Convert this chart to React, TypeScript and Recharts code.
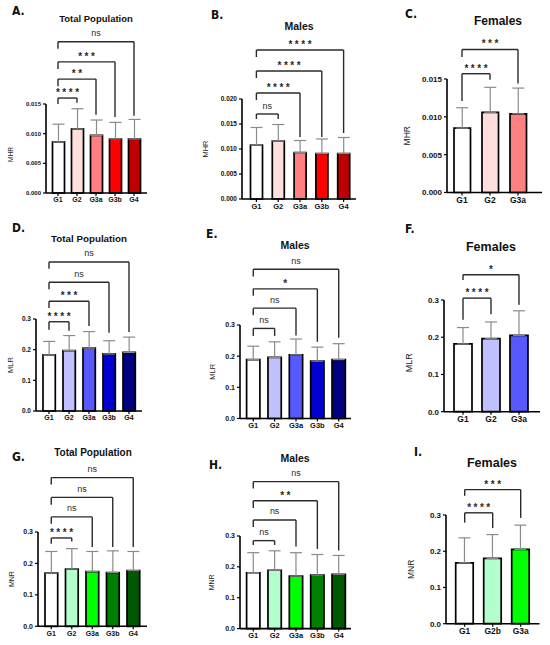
import React from 'react';
import { BarChart, Bar, XAxis, YAxis, ErrorBar, Cell, ReferenceLine } from 'recharts';

// ---------- categories ----------
const groupsAll = ['G1', 'G2', 'G3a', 'G3b', 'G4'];
const groupsFemaleMHR = ['G1', 'G2', 'G3a'];
const groupsFemaleMLR = ['G1', 'G2', 'G3a'];
const groupsFemaleMNR = ['G1', 'G2b', 'G3a'];

// ---------- series values (mean, SD) ----------
const mhrTotalMean = [0.0086, 0.0108, 0.0097, 0.0091, 0.0091];
const mhrTotalSd = [0.003, 0.0034, 0.0026, 0.0028, 0.0033];
const mhrMaleMean = [0.0108, 0.0116, 0.0093, 0.0091, 0.0091];
const mhrMaleSd = [0.0035, 0.0033, 0.0024, 0.0029, 0.0032];
const mhrFemaleMean = [0.0085, 0.0106, 0.0104];
const mhrFemaleSd = [0.0027, 0.0033, 0.0034];

const mlrTotalMean = [0.183, 0.197, 0.205, 0.186, 0.191];
const mlrTotalSd = [0.044, 0.049, 0.054, 0.043, 0.05];
const mlrMaleMean = [0.189, 0.196, 0.204, 0.184, 0.189];
const mlrMaleSd = [0.043, 0.05, 0.051, 0.045, 0.051];
const mlrFemaleMean = [0.182, 0.196, 0.205];
const mlrFemaleSd = [0.044, 0.045, 0.066];

const mnrTotalMean = [0.169, 0.182, 0.174, 0.171, 0.177];
const mnrTotalSd = [0.069, 0.065, 0.064, 0.069, 0.061];
const mnrMaleMean = [0.181, 0.189, 0.17, 0.173, 0.176];
const mnrMaleSd = [0.065, 0.063, 0.076, 0.067, 0.061];
const mnrFemaleMean = [0.168, 0.18, 0.205];
const mnrFemaleSd = [0.069, 0.066, 0.067];

// ---------- tick labels ----------
const mhrTicks = [0, 0.005, 0.01, 0.015];
const mhrTickLabels = ['0.000', '0.005', '0.010', '0.015'];
const mhrMaleTicks = [0, 0.005, 0.01, 0.015, 0.02];
const mhrMaleTickLabels = ['0.000', '0.005', '0.010', '0.015', '0.020'];
const ratioTicks = [0, 0.1, 0.2, 0.3];
const ratioTickLabels = ['0.0', '0.1', '0.2', '0.3'];

// ---------- colours ----------
const redShades = ['#ffffff', '#ffdede', '#ff8080', '#ff0000', '#c00000'];
const blueShades = ['#ffffff', '#c0c0ff', '#5858ff', '#0000d0', '#000080'];
const greenShades = ['#ffffff', '#b3ffcc', '#00ff00', '#008000', '#005800'];

// ---------- significance brackets (data units) ----------
const bracketsMhrTotal = [
  { from: 'G1', to: 'G2', y: 0.016, left: 0.015, right: 0.0152, label: '****' },
  { from: 'G1', to: 'G3a', y: 0.0192, left: 0.018, right: 0.0132, label: '**' },
  { from: 'G1', to: 'G3b', y: 0.0221, left: 0.0209, right: 0.0128, label: '***' },
  { from: 'G1', to: 'G4', y: 0.0255, left: 0.0243, right: 0.013, label: 'ns' },
];
const bracketsMhrMale = [
  { from: 'G1', to: 'G2', y: 0.017, left: 0.016, right: 0.016, label: 'ns' },
  { from: 'G1', to: 'G3a', y: 0.0212, left: 0.0198, right: 0.0124, label: '****' },
  { from: 'G1', to: 'G3b', y: 0.0256, left: 0.0242, right: 0.0124, label: '****' },
  { from: 'G1', to: 'G4', y: 0.0298, left: 0.0284, right: 0.0132, label: '****' },
];
const bracketsMhrFemale = [
  { from: 'G1', to: 'G2', y: 0.0157, left: 0.0121, right: 0.0149, label: '****' },
  { from: 'G1', to: 'G3a', y: 0.0189, left: 0.0179, right: 0.0144, label: '***' },
];
const bracketsMlrTotal = [
  { from: 'G1', to: 'G2', y: 0.291, left: 0.265, right: 0.262, label: '****' },
  { from: 'G1', to: 'G3a', y: 0.358, left: 0.336, right: 0.277, label: '***' },
  { from: 'G1', to: 'G3b', y: 0.42, left: 0.397, right: 0.255, label: 'ns' },
  { from: 'G1', to: 'G4', y: 0.486, left: 0.464, right: 0.258, label: 'ns' },
];
const bracketsMlrMale = [
  { from: 'G1', to: 'G2', y: 0.289, left: 0.265, right: 0.265, label: 'ns' },
  { from: 'G1', to: 'G3a', y: 0.354, left: 0.331, right: 0.266, label: 'ns' },
  { from: 'G1', to: 'G3b', y: 0.416, left: 0.394, right: 0.246, label: '*' },
  { from: 'G1', to: 'G4', y: 0.479, left: 0.456, right: 0.259, label: 'ns' },
];
const bracketsMlrFemale = [
  { from: 'G1', to: 'G2', y: 0.305, left: 0.247, right: 0.262, label: '****' },
  { from: 'G1', to: 'G3a', y: 0.368, left: 0.354, right: 0.287, label: '*' },
];
const bracketsMnrTotal = [
  { from: 'G1', to: 'G2', y: 0.281, left: 0.263, right: 0.27, label: '****' },
  { from: 'G1', to: 'G3a', y: 0.348, left: 0.326, right: 0.252, label: 'ns' },
  { from: 'G1', to: 'G3b', y: 0.41, left: 0.387, right: 0.252, label: 'ns' },
  { from: 'G1', to: 'G4', y: 0.473, left: 0.451, right: 0.252, label: 'ns' },
];
const bracketsMnrMale = [
  { from: 'G1', to: 'G2', y: 0.285, left: 0.271, right: 0.271, label: 'ns' },
  { from: 'G1', to: 'G3a', y: 0.352, left: 0.329, right: 0.266, label: 'ns' },
  { from: 'G1', to: 'G3b', y: 0.414, left: 0.391, right: 0.258, label: '**' },
  { from: 'G1', to: 'G4', y: 0.476, left: 0.454, right: 0.253, label: 'ns' },
];
const bracketsMnrFemale = [
  { from: 'G1', to: 'G2b', y: 0.306, left: 0.279, right: 0.264, label: '****' },
  { from: 'G1', to: 'G3a', y: 0.37, left: 0.353, right: 0.292, label: '***' },
];

const FONT = "'Liberation Sans', Arial, Helvetica, sans-serif";
const LETTER_FONT = "'Liberation Sans Narrow', 'DejaVu Sans Condensed', 'Liberation Sans', sans-serif";

type Bracket = { from: string; to: string; y: number; left: number; right: number; label: string };

type PanelCfg = {
  letter: string; letterX: number; letterY: number;
  title: string; titleX: number; titleY: number; titleSize: number;
  groups: string[]; means: number[]; sds: number[]; colors: string[];
  brackets: Bracket[]; ticks: number[]; tickLabels: string[]; domainMax: number;
  yLabel: string; labelX: number; labelSize: number; labelDy?: number;
  plotLeft: number; plotRight: number; plotTop: number; plotBottom: number;
  padL: number; padR: number; barSize: number; chartLeft: number;
  tickFont: number; xFont: number; starFont: number; starSpacing: number; nsFont: number;
};

const small = { tickFont: 6.5, xFont: 7, starFont: 10, starSpacing: 2.5, nsFont: 9 };
const large = { tickFont: 8, xFont: 8.5, starFont: 10, starSpacing: 2.5, nsFont: 9.5 };

const panels: PanelCfg[] = [
  {
    letter: 'A.', letterX: 12, letterY: 11, title: 'Total Population', titleX: 96, titleY: 19, titleSize: 9.5,
    groups: groupsAll, means: mhrTotalMean, sds: mhrTotalSd, colors: redShades, brackets: bracketsMhrTotal,
    ticks: mhrTicks, tickLabels: mhrTickLabels, domainMax: 0.015, yLabel: 'MHR', labelX: 10, labelSize: 6.5, labelDy: 6,
    plotLeft: 46, plotRight: 147, plotTop: 104, plotBottom: 193, padL: 2.5, padR: 3.5, barSize: 12, chartLeft: 0,
    ...small, tickFont: 6,
  },
  {
    letter: 'B.', letterX: 211, letterY: 15, title: 'Males', titleX: 299, titleY: 26, titleSize: 10.5,
    groups: groupsAll, means: mhrMaleMean, sds: mhrMaleSd, colors: redShades, brackets: bracketsMhrMale,
    ticks: mhrMaleTicks, tickLabels: mhrMaleTickLabels, domainMax: 0.02, yLabel: 'MHR', labelX: 205, labelSize: 7.5,
    plotLeft: 242, plotRight: 356, plotTop: 99, plotBottom: 199, padL: 3.5, padR: 1.5, barSize: 12, chartLeft: 180,
    ...small, xFont: 7.5,
  },
  {
    letter: 'C.', letterX: 405, letterY: 14, title: 'Females', titleX: 498, titleY: 21, titleSize: 12,
    groups: groupsFemaleMHR, means: mhrFemaleMean, sds: mhrFemaleSd, colors: redShades, brackets: bracketsMhrFemale,
    ticks: mhrTicks, tickLabels: mhrTickLabels, domainMax: 0.015, yLabel: 'MHR', labelX: 407, labelSize: 8.5,
    plotLeft: 447, plotRight: 542, plotTop: 79, plotBottom: 192.5, padL: 1, padR: 10, barSize: 16.5, chartLeft: 365,
    ...large,
  },
  {
    letter: 'D.', letterX: 12, letterY: 228, title: 'Total Population', titleX: 89, titleY: 239, titleSize: 9.8,
    groups: groupsAll, means: mlrTotalMean, sds: mlrTotalSd, colors: blueShades, brackets: bracketsMlrTotal,
    ticks: ratioTicks, tickLabels: ratioTickLabels, domainMax: 0.3, yLabel: 'MLR', labelX: 10, labelSize: 7.5,
    plotLeft: 36, plotRight: 142, plotTop: 319, plotBottom: 411, padL: 3, padR: 3, barSize: 12.3, chartLeft: 0,
    ...small,
  },
  {
    letter: 'E.', letterX: 206, letterY: 234, title: 'Males', titleX: 295, titleY: 245, titleSize: 10.5,
    groups: groupsAll, means: mlrMaleMean, sds: mlrMaleSd, colors: blueShades, brackets: bracketsMlrMale,
    ticks: ratioTicks, tickLabels: ratioTickLabels, domainMax: 0.3, yLabel: 'MLR', labelX: 212, labelSize: 7.5,
    plotLeft: 240, plotRight: 351, plotTop: 325, plotBottom: 418.5, padL: 2.6, padR: 1.6, barSize: 13.3, chartLeft: 180,
    ...small, tickFont: 7, xFont: 7.5,
  },
  {
    letter: 'F.', letterX: 405, letterY: 229, title: 'Females', titleX: 491, titleY: 247, titleSize: 12.5,
    groups: groupsFemaleMLR, means: mlrFemaleMean, sds: mlrFemaleSd, colors: blueShades, brackets: bracketsMlrFemale,
    ticks: ratioTicks, tickLabels: ratioTickLabels, domainMax: 0.3, yLabel: 'MLR', labelX: 409, labelSize: 9, labelDy: 7,
    plotLeft: 444, plotRight: 540, plotTop: 300, plotBottom: 411.7, padL: 5, padR: 7, barSize: 18, chartLeft: 365,
    ...large,
  },
  {
    letter: 'G.', letterX: 12, letterY: 457, title: 'Total Population', titleX: 93, titleY: 453, titleSize: 10,
    groups: groupsAll, means: mnrTotalMean, sds: mnrTotalSd, colors: greenShades, brackets: bracketsMnrTotal,
    ticks: ratioTicks, tickLabels: ratioTickLabels, domainMax: 0.3, yLabel: 'MNR', labelX: 12, labelSize: 7,
    plotLeft: 38, plotRight: 147, plotTop: 531.7, plotBottom: 626, padL: 3, padR: 3.5, barSize: 12.7, chartLeft: 0,
    ...small, tickFont: 7,
  },
  {
    letter: 'H.', letterX: 209, letterY: 465, title: 'Males', titleX: 295, titleY: 458, titleSize: 10.5,
    groups: groupsAll, means: mnrMaleMean, sds: mnrMaleSd, colors: greenShades, brackets: bracketsMnrMale,
    ticks: ratioTicks, tickLabels: ratioTickLabels, domainMax: 0.3, yLabel: 'MNR', labelX: 212, labelSize: 7,
    plotLeft: 240, plotRight: 351, plotTop: 535.7, plotBottom: 628.3, padL: 2.6, padR: 1.6, barSize: 13.3, chartLeft: 180,
    ...small, tickFont: 7, xFont: 7.5,
  },
  {
    letter: 'I.', letterX: 414, letterY: 452, title: 'Females', titleX: 492, titleY: 463, titleSize: 12.5,
    groups: groupsFemaleMNR, means: mnrFemaleMean, sds: mnrFemaleSd, colors: greenShades, brackets: bracketsMnrFemale,
    ticks: ratioTicks, tickLabels: ratioTickLabels, domainMax: 0.3, yLabel: 'MNR', labelX: 411, labelSize: 8.5,
    plotLeft: 446, plotRight: 539.5, plotTop: 515.3, plotBottom: 624, padL: 4.7, padR: 4.8, barSize: 17.5, chartLeft: 365,
    ...large,
  },
];

const TOP_SPACE = 90;
const X_AXIS_H = 18;
const BOTTOM_SPACE = 4;
const RIGHT_SPACE = 8;
const BRACKET_COLOR = '#2a2a2a';

function Panel({ cfg }: { cfg: PanelCfg }) {
  const data = cfg.groups.map((g, i) => ({ g, mean: cfg.means[i], err: [0, cfg.sds[i]] }));
  const chartTop = cfg.plotTop - TOP_SPACE;
  const width = cfg.plotRight + RIGHT_SPACE - cfg.chartLeft;
  const height = cfg.plotBottom - cfg.plotTop + TOP_SPACE + X_AXIS_H + BOTTOM_SPACE;
  const yAxisWidth = cfg.plotLeft - cfg.chartLeft;
  const labelGap = cfg.plotLeft - cfg.labelX;

  const renderYLabel = (props: any) => {
    const vb = props && props.viewBox ? props.viewBox : { x: 0, y: TOP_SPACE, width: yAxisWidth, height: cfg.plotBottom - cfg.plotTop };
    const x = vb.x + vb.width - labelGap;
    const y = vb.y + vb.height / 2 + (cfg.labelDy || 0);
    return (
      <text x={x} y={y} transform={`rotate(-90 ${x} ${y})`} textAnchor="middle" dominantBaseline="central"
        fontSize={cfg.labelSize} fontFamily={FONT} fill="#222">{cfg.yLabel}</text>
    );
  };

  const makeBracketLabel = (text: string) => (props: any) => {
    const vb = props && props.viewBox ? props.viewBox : { x: 0, y: 0, width: 0, height: 0 };
    const isNs = text === 'ns';
    const sp = isNs ? 0 : cfg.starSpacing;
    const x = vb.x + vb.width / 2 + sp / 2;
    const y = vb.y - (isNs ? 5.5 : 2);
    return (
      <text x={x} y={y} textAnchor="middle" fontSize={isNs ? cfg.nsFont : cfg.starFont} letterSpacing={sp}
        fontWeight={isNs ? 400 : 700} fontFamily={FONT} fill={BRACKET_COLOR}>{text}</text>
    );
  };

  const fmt = (v: number) => {
    const idx = cfg.ticks.findIndex((t) => Math.abs(t - v) < 1e-9);
    return idx >= 0 ? cfg.tickLabels[idx] : String(v);
  };

  return (
    <div style={{ position: 'absolute', left: cfg.chartLeft, top: chartTop }}>
      <BarChart width={width} height={height} data={data}
        margin={{ top: TOP_SPACE, right: RIGHT_SPACE, bottom: BOTTOM_SPACE, left: 0 }}>
        <XAxis dataKey="g" type="category" interval={0} height={X_AXIS_H}
          padding={{ left: cfg.padL, right: cfg.padR }}
          tickSize={3} tickMargin={1.5}
          tick={{ fontSize: cfg.xFont, fontWeight: 700, fill: '#111', fontFamily: FONT }}
          tickLine={{ stroke: '#000', strokeWidth: 1.2 }}
          axisLine={{ stroke: '#000', strokeWidth: 1.6 }} />
        <YAxis type="number" domain={[0, cfg.domainMax]} ticks={cfg.ticks} tickFormatter={fmt}
          width={yAxisWidth} tickSize={3} tickMargin={2} interval={0}
          tick={{ fontSize: cfg.tickFont, fontWeight: 700, fill: '#111', fontFamily: FONT }}
          tickLine={{ stroke: '#000', strokeWidth: 1.2 }}
          axisLine={{ stroke: '#000', strokeWidth: 1.6 }}
          label={renderYLabel} />
        <Bar dataKey="mean" barSize={cfg.barSize} stroke="#000" strokeWidth={1.7} isAnimationActive={false}>
          {data.map((d, i) => (
            <Cell key={d.g} fill={cfg.colors[i]} />
          ))}
          <ErrorBar dataKey="err" direction="y" width={6} stroke="#8a8a8a" strokeWidth={1.2} />
        </Bar>
        {cfg.brackets.map((b, i) => (
          <ReferenceLine key={`h${i}`} ifOverflow="visible" stroke={BRACKET_COLOR} strokeWidth={1.4}
            segment={[{ x: b.from, y: b.y }, { x: b.to, y: b.y }]} label={makeBracketLabel(b.label)} />
        ))}
        {cfg.brackets.map((b, i) => (
          <ReferenceLine key={`l${i}`} ifOverflow="visible" stroke={BRACKET_COLOR} strokeWidth={1.4}
            segment={[{ x: b.from, y: b.y }, { x: b.from, y: b.left }]} />
        ))}
        {cfg.brackets.map((b, i) => (
          <ReferenceLine key={`r${i}`} ifOverflow="visible" stroke={BRACKET_COLOR} strokeWidth={1.4}
            segment={[{ x: b.to, y: b.y }, { x: b.to, y: b.right }]} />
        ))}
      </BarChart>
    </div>
  );
}

export default function App() {
  return (
    <div style={{ position: 'absolute', left: 0, top: 0, width: 550, height: 645, background: '#fff', overflow: 'hidden' }}>
      {panels.map((p) => (
        <Panel key={p.letter} cfg={p} />
      ))}
      {panels.map((p) => (
        <div key={`t${p.letter}`} style={{
          position: 'absolute', left: p.titleX, top: p.titleY, transform: 'translate(-50%, -50%)',
          fontFamily: FONT, fontWeight: 700, fontSize: p.titleSize, lineHeight: 1, whiteSpace: 'nowrap', color: '#111',
        }}>{p.title}</div>
      ))}
      {panels.map((p) => (
        <div key={`k${p.letter}`} style={{
          position: 'absolute', left: p.letterX, top: p.letterY, transform: 'translateY(-50%)',
          fontFamily: LETTER_FONT, fontWeight: 700, fontSize: 12, lineHeight: 1, whiteSpace: 'nowrap', color: '#111',
        }}>{p.letter}</div>
      ))}
    </div>
  );
}
